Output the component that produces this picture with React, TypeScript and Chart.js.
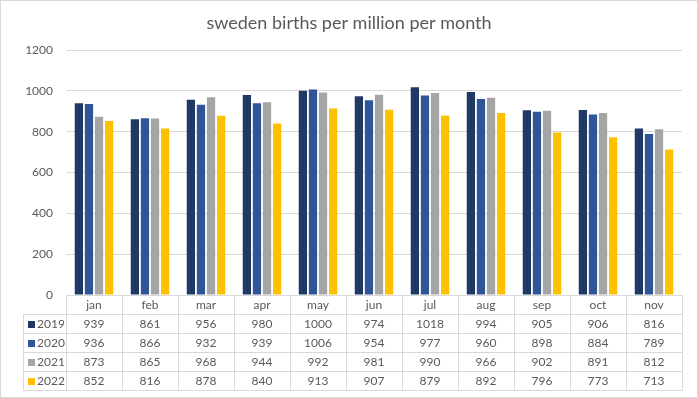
import React, { useEffect, useRef } from "react";
import { Chart, registerables } from "chart.js";

Chart.register(...registerables);

const TITLE = "sweden births per million per month";
const MONTHS = ["jan", "feb", "mar", "apr", "may", "jun", "jul", "aug", "sep", "oct", "nov"];
const SERIES_LABELS = ["2019", "2020", "2021", "2022"];
const V2019 = [939, 861, 956, 980, 1000, 974, 1018, 994, 905, 906, 816];
const V2020 = [936, 866, 932, 939, 1006, 954, 977, 960, 898, 884, 789];
const V2021 = [873, 865, 968, 944, 992, 981, 990, 966, 902, 891, 812];
const V2022 = [852, 816, 878, 840, 913, 907, 879, 892, 796, 773, 713];
const COLORS = ["#203864", "#2F5597", "#A5A5A5", "#FFC000"];
const Y_TICKS = [0, 200, 400, 600, 800, 1000, 1200];

const FONT = "Lato, 'Open Sans', sans-serif";
const TEXT = "#595959";
const LINE = "#D9D9D9";

const tablePlugin = {
  id: "dataTable",
  beforeDraw(chart: any) {
    const ctx = chart.ctx;
    ctx.save();
    ctx.fillStyle = "#ffffff";
    ctx.fillRect(0, 0, chart.width, chart.height);
    ctx.restore();
  },
  afterDraw(chart: any) {
    const ctx = chart.ctx;
    const area = chart.chartArea;
    const xs = chart.scales.x;
    const n = MONTHS.length;
    const colW = (area.right - area.left) / n;
    const rowH = 19;
    const top = Math.round(area.bottom);
    const tableLeft = 23;
    const nRows = SERIES_LABELS.length;
    const bottom = top + rowH * (nRows + 1);
    ctx.save();
    ctx.strokeStyle = LINE;
    ctx.lineWidth = 1;
    ctx.beginPath();
    for (let k = 1; k <= nRows + 1; k++) {
      const y = top + rowH * k + 0.5;
      ctx.moveTo(tableLeft, y);
      ctx.lineTo(area.right, y);
    }
    for (let i = 0; i <= n; i++) {
      const x = Math.round(area.left + i * colW) + 0.5;
      ctx.moveTo(x, top);
      ctx.lineTo(x, bottom + 0.5);
    }
    ctx.moveTo(tableLeft + 0.5, top + rowH);
    ctx.lineTo(tableLeft + 0.5, bottom + 0.5);
    ctx.stroke();

    // outer chart border
    ctx.strokeRect(0.5, 0.5, chart.width - 1, chart.height - 1);

    ctx.fillStyle = TEXT;
    ctx.font = `12px ${FONT}`;
    ctx.textAlign = "center";
    ctx.textBaseline = "middle";
    MONTHS.forEach((m, i) => {
      ctx.fillText(m, xs.getPixelForValue(i), top + rowH / 2 + 1);
    });
    chart.data.datasets.forEach((ds: any, r: number) => {
      const cy = top + rowH * (r + 1) + rowH / 2 + 1;
      ds.data.forEach((v: number, i: number) => {
        ctx.fillStyle = TEXT;
        ctx.textAlign = "center";
        ctx.fillText(String(v), xs.getPixelForValue(i), cy);
      });
      ctx.fillStyle = ds.backgroundColor;
      ctx.fillRect(28, Math.round(cy - 4), 7, 7);
      ctx.fillStyle = TEXT;
      ctx.textAlign = "left";
      ctx.fillText(ds.label, 37, cy);
    });

    // title
    ctx.fillStyle = TEXT;
    ctx.font = `18px ${FONT}`;
    ctx.textAlign = "center";
    ctx.fillText(TITLE, chart.width / 2, 23);
    ctx.restore();
  },
};

export default function App() {
  const ref = useRef<HTMLCanvasElement>(null);
  useEffect(() => {
    if (!ref.current) return;
    const values = [V2019, V2020, V2021, V2022];
    const chart = new Chart(ref.current, {
      type: "bar",
      data: {
        labels: MONTHS,
        datasets: SERIES_LABELS.map((l, i) => ({
          label: l,
          data: values[i],
          backgroundColor: COLORS[i],
          borderWidth: 0,
          categoryPercentage: 0.72,
          barPercentage: 0.82,
        })),
      },
      options: {
        responsive: false,
        animation: false,
        events: [],
        layout: { padding: { top: 50, left: 0, right: 16, bottom: 103 } },
        plugins: { legend: { display: false }, title: { display: false }, tooltip: { enabled: false } },
        scales: {
          x: { display: false },
          y: {
            min: 0,
            max: 1200,
            afterBuildTicks: (s: any) => {
              s.ticks = Y_TICKS.map((v) => ({ value: v }));
            },
            afterFit: (s: any) => {
              s.width = 66;
            },
            border: { display: false },
            grid: { color: LINE, drawTicks: false },
            ticks: {
              color: TEXT,
              font: { family: FONT, size: 12 },
              padding: 13,
              callback: (v: any) => String(v),
            },
          },
        },
      },
      plugins: [tablePlugin],
    });
    return () => chart.destroy();
  }, []);
  return (
    <div style={{ position: "absolute", left: 0, top: 0, width: 698, height: 398 }}>
      <canvas ref={ref} width={698} height={398} />
    </div>
  );
}
